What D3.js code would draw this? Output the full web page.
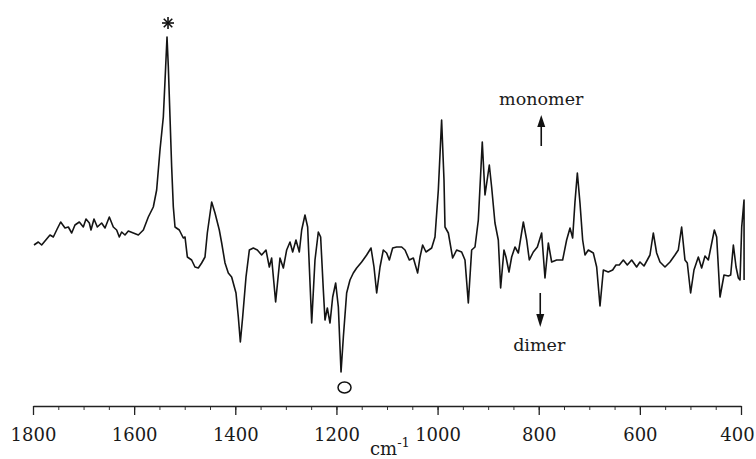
<!DOCTYPE html>
<html>
<head>
<meta charset="utf-8">
<script src="https://cdn.jsdelivr.net/npm/d3@7"></script>
<style>
  html, body { margin: 0; padding: 0; background: #fff; }
  svg { display: block; }
</style>
</head>
<body>
<svg id="chart" width="756" height="459"></svg>
<script>
const wavenumbers = [
  1798,1789.5,1782.9,1773,1766.4,1759.8,1753.2,1745.3,1736.7,1730.1,
  1723.5,1717,1708.4,1700.5,1695.2,1688.6,1685.3,1679.4,1672.8,1664.3,
  1657.6,1649.1,1641.2,1634.6,1629.3,1624.7,1618.1,1611.5,1601.6,1591.7,
  1581.8,1572,1562.1,1555.5,1548.9,1542.3,1537.7,1535,1532.4,1529.1,
  1525.8,1522.5,1519.2,1510.7,1502.8,1499.4,1494.8,1486.3,1479.7,1473.1,
  1466.5,1459.9,1455.3,1446.7,1440.1,1431.6,1426.9,1420.3,1413.8,1407.2,
  1398.6,1394,1390,1385.4,1378.8,1372.2,1364.3,1356.4,1347.9,1339.3,
  1332.7,
  1328.1,1320.2,1311.6,1305,1298.4,1291.8,1286.5,1280,1273.4,1268.7,
  1262.2,1256.9,1248.9,1242.4,1235.8,1231.2,1225.9,1222.6,1218,1212.7,
  1207.4,1201.5,1196.2,1190.9,1186.3,1179.8,1173.2,1166.6,1160,1150.1,
  1140.2,1131.6,1125.7,1120.4,1113.8,1107.3,1100.7,1095.4,1088.8,1080.9,
  1071,1064.4,1055.9,1047.9,1039.4,1034.7,1029.5,1022.9,1011.7,1005.1,
  998.5,
  992,987.3,985.3,978.7,970.2,962.3,952.4,945.8,939.2,932.6,
  926,919.4,911.6,906.2,897.7,893.1,886.5,879.9,875.3,868.7,
  864.7,858.8,853.5,846.9,840.3,830.4,823.8,818.6,810.7,802.7,
  794.2,787.6,781,774.4,764.5,752.7,744.8,738.1,732.9,728.3,
  723.6,718.4,713.1,708.5,701.9,692,685.4,678.8,672.2,662.4,
  653.8,647.2,640.6,632.7,624.8,616.2,606.4,599.8,591.8,585.3,
  580,573.4,566.8,560.2,550.3,540.4,530.6,524,517.4,510.8,
  506.2,499.6,493,484.4,477.8,471.2,464.6,452.7,448.1,441.5,
  433.6,425,420.4,415.1,409.8,405.2,401.9,398.6,394,393.9
];
// Difference absorbance (arbitrary units): + monomer, - dimer
const absorbance = [
  -0.05,-0.02,-0.05,0.01,0.05,0.03,0.10,0.18,0.12,0.13,
  0.07,0.15,0.18,0.13,0.21,0.17,0.10,0.21,0.13,0.17,
  0.12,0.23,0.13,0.10,0.03,0.08,0.05,0.09,0.07,0.05,
  0.10,0.23,0.33,0.50,0.90,1.23,1.73,2.03,1.73,1.23,
  0.73,0.33,0.13,0.10,0.02,0.03,-0.17,-0.20,-0.27,-0.28,
  -0.23,-0.17,0.07,0.38,0.27,0.10,-0.03,-0.23,-0.33,-0.37,
  -0.53,-0.77,-1.02,-0.77,-0.37,-0.10,-0.08,-0.10,-0.15,-0.10,
  -0.27,
  -0.18,-0.62,-0.18,-0.28,-0.10,-0.02,-0.12,0.00,-0.12,0.10,
  0.25,0.13,-0.83,-0.20,0.08,0.03,-0.50,-0.80,-0.68,-0.83,
  -0.57,-0.43,-0.67,-1.32,-0.97,-0.53,-0.40,-0.33,-0.28,-0.22,
  -0.15,-0.08,-0.27,-0.53,-0.27,-0.10,-0.13,-0.20,-0.08,-0.07,
  -0.07,-0.10,-0.20,-0.18,-0.33,-0.17,-0.05,-0.12,-0.08,0.03,
  0.50,
  1.20,0.60,0.13,0.07,-0.18,-0.10,-0.12,-0.20,-0.63,-0.10,
  -0.07,0.20,0.98,0.45,0.75,0.53,0.17,0.00,-0.48,-0.10,
  -0.17,-0.32,-0.17,-0.07,-0.13,0.18,0.00,-0.20,-0.12,-0.07,
  0.07,-0.38,-0.03,-0.22,-0.20,-0.20,0.00,0.12,0.02,0.38,
  0.67,0.37,0.00,-0.15,-0.10,-0.13,-0.27,-0.66,-0.30,-0.32,
  -0.30,-0.25,-0.25,-0.20,-0.25,-0.20,-0.27,-0.22,-0.26,-0.20,
  -0.15,0.07,-0.13,-0.22,-0.27,-0.22,-0.15,-0.10,0.13,-0.20,
  -0.23,-0.53,-0.30,-0.17,-0.28,-0.16,-0.20,0.10,0.03,-0.57,
  -0.35,-0.36,-0.35,-0.05,-0.27,-0.38,-0.40,0.13,0.40,-0.40
];
const majorTicks = [1800, 1600, 1400, 1200, 1000, 800, 600, 400];
const minorTicks = d3.range(1800, 399, -50);
const axisTitle = "cm";
const axisTitleSup = "-1";
const upLabel = "monomer";
const downLabel = "dimer";
const starPeak = 1535;   // band marked with *
const circlePeak = 1184; // band marked with o
const labelPos = 795;

const FONT = "DejaVu Serif";

const svg = d3.select("#chart");

const x = d3.scaleLinear().domain([1800, 400]).range([33, 741]);
const y = d3.scaleLinear().domain([-2.4, 2.4]).range([480, 0]);
const axisY = 406;

const data = wavenumbers.map((w, i) => ({ w, a: absorbance[i] }));

// Spectrum
svg.append("path")
  .datum(data)
  .attr("fill", "none")
  .attr("stroke", "#141414")
  .attr("stroke-width", 1.6)
  .attr("stroke-linejoin", "round")
  .attr("d", d3.line().x(d => x(d.w)).y(d => y(d.a)));

// Axis: minor ticks
const gMinor = svg.append("g")
  .attr("transform", `translate(0,${axisY})`)
  .call(d3.axisBottom(x).tickValues(minorTicks).tickSize(4).tickFormat(""));
gMinor.select(".domain").remove();
gMinor.selectAll("line").attr("stroke", "#333").attr("stroke-width", 1);

// Axis: major ticks + labels
const gMajor = svg.append("g")
  .attr("transform", `translate(0,${axisY})`)
  .call(d3.axisBottom(x).tickValues(majorTicks).tickSize(9).tickPadding(13)
    .tickFormat(d3.format("d")).tickSizeOuter(0));
gMajor.attr("font-family", FONT).attr("font-size", 18);
gMajor.select(".domain").attr("stroke", "#222").attr("stroke-width", 1.4);
gMajor.selectAll("line").attr("stroke", "#222").attr("stroke-width", 1.3);
gMajor.selectAll("text")
  .attr("font-family", FONT)
  .attr("font-size", 18)
  .attr("fill", "#1a1a1a")
  .attr("dx", d => d === 400 ? -4 : 0);

// Axis title cm^-1
const title = svg.append("text")
  .attr("font-family", FONT)
  .attr("x", 370).attr("y", 455)
  .attr("font-size", 18).attr("fill", "#1a1a1a");
title.append("tspan").text(axisTitle);
title.append("tspan").attr("font-size", 13).attr("dy", -8).text(axisTitleSup);

// Annotations
const ax = x(labelPos);
svg.append("text")
  .attr("font-family", FONT)
  .attr("x", ax).attr("y", 105)
  .attr("text-anchor", "middle")
  .attr("font-size", 17.5).attr("fill", "#1a1a1a")
  .text(upLabel);
svg.append("text")
  .attr("font-family", FONT)
  .attr("x", ax - 2).attr("y", 351)
  .attr("text-anchor", "middle")
  .attr("font-size", 17.5).attr("fill", "#1a1a1a")
  .text(downLabel);

// Up arrow
svg.append("line").attr("x1", ax).attr("x2", ax).attr("y1", 124).attr("y2", 146)
  .attr("stroke", "#111").attr("stroke-width", 1.6);
svg.append("path")
  .attr("d", d3.line()([[ax, 115], [ax - 4, 127], [ax + 4, 127]]) + "Z")
  .attr("fill", "#111");
// Down arrow
svg.append("line").attr("x1", ax - 1).attr("x2", ax - 1).attr("y1", 293).attr("y2", 316)
  .attr("stroke", "#111").attr("stroke-width", 1.6);
svg.append("path")
  .attr("d", d3.line()([[ax - 1, 327], [ax - 5, 314], [ax + 3, 314]]) + "Z")
  .attr("fill", "#111");

// Asterisk above the 1535 band
const sx = x(starPeak) + 1, sy = 23;
const armLen = 6;
d3.range(4).forEach(i => {
  const ang = i * Math.PI / 4;
  svg.append("line")
    .attr("x1", sx - armLen * Math.cos(ang)).attr("y1", sy - armLen * Math.sin(ang))
    .attr("x2", sx + armLen * Math.cos(ang)).attr("y2", sy + armLen * Math.sin(ang))
    .attr("stroke", "#111").attr("stroke-width", 1.6);
});

// Circle below the 1190 band
svg.append("ellipse")
  .attr("cx", x(circlePeak)).attr("cy", 387.5)
  .attr("rx", 6.5).attr("ry", 5.5)
  .attr("fill", "none").attr("stroke", "#111").attr("stroke-width", 1.5);
</script>
</body>
</html>
